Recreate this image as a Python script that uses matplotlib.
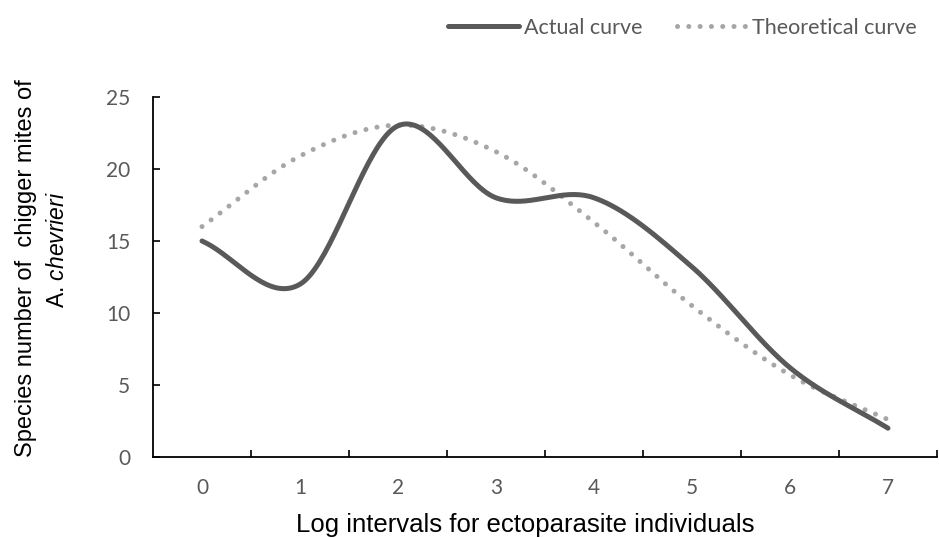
import numpy as np
import matplotlib
matplotlib.use("Agg")
import matplotlib.pyplot as plt

# categories on the x axis and the two series
categories = ["0", "1", "2", "3", "4", "5", "6", "7"]
actual = [15, 12, 23, 18, 18, 13.2, 6.2, 2]
theoretical = [16, 20.9, 23.05, 21.2, 16.3, 10.5, 5.7, 2.6]
y_ticks = [0, 5, 10, 15, 20, 25]


def smooth(ys, n=40):
    # Excel-like smoothed line (Catmull-Rom through the points)
    ys = np.asarray(ys, dtype=float)
    xs = np.arange(len(ys), dtype=float)
    px, py = [], []
    for i in range(len(ys) - 1):
        y0 = ys[i - 1] if i > 0 else ys[i]
        y3 = ys[i + 2] if i + 2 < len(ys) else ys[i + 1]
        x0 = xs[i - 1] if i > 0 else xs[i]
        x3 = xs[i + 2] if i + 2 < len(ys) else xs[i + 1]
        m1 = (ys[i + 1] - y0) / (xs[i + 1] - x0)
        m2 = (y3 - ys[i]) / (x3 - xs[i])
        t = np.linspace(0, 1, n, endpoint=(i == len(ys) - 2))
        h00 = 2 * t**3 - 3 * t**2 + 1
        h10 = t**3 - 2 * t**2 + t
        h01 = -2 * t**3 + 3 * t**2
        h11 = t**3 - t**2
        px.extend(xs[i] + t)
        py.extend(h00 * ys[i] + h10 * m1 + h01 * ys[i + 1] + h11 * m2)
    return np.array(px), np.array(py)


plt.rcParams['mathtext.fontset'] = 'custom'
plt.rcParams['mathtext.rm'] = 'Liberation Sans'
plt.rcParams['mathtext.it'] = 'Liberation Sans:italic'

fig = plt.figure(figsize=(9.39, 5.38), dpi=100)
ax = fig.add_axes([153 / 939, 1 - 457 / 538, 784 / 939, 360 / 538])

ax_x, ax_y = smooth(actual)
th_x, th_y = smooth(theoretical)
ax.plot(ax_x, ax_y, color="#595959", lw=3.6, solid_capstyle="round",
        label="Actual curve", zorder=3)
ax.plot(th_x, th_y, color="#a6a6a6", lw=3.6, linestyle=(0, (0.01, 2.25)),
        dash_capstyle="round", label="Theoretical curve", zorder=2)

ax.set_xlim(-0.5, len(categories) - 0.5)
ax.set_ylim(0, 25)
ax.set_yticks(y_ticks)
ax.set_xticks(range(len(categories)))
ax.set_xticklabels(categories)
ax.set_xticks(np.arange(0.5, len(categories), 1), minor=True)
ax.tick_params(axis="x", which="major", length=0, pad=15)
ax.tick_params(axis="x", which="minor", direction="in", length=5, width=1.2, color="black")
ax.tick_params(axis="y", direction="in", length=5, width=1.2, color="black", pad=16.5)
for lab in ax.get_xticklabels() + ax.get_yticklabels():
    lab.set_family("Lato")
    lab.set_fontsize(15)
    lab.set_color("#595959")

for s in ["top", "right"]:
    ax.spines[s].set_visible(False)
for s in ["left", "bottom"]:
    ax.spines[s].set_linewidth(1.3)

ax.set_xlabel("Log intervals for ectoparasite individuals", family="Liberation Sans",
              fontsize=18.5, labelpad=10)
ax.xaxis.set_label_coords((525 - 153) / 784, -(525 - 457) / 360)
ax.xaxis.label.set_va("center")
fig.text(26 / 939, 1 - 268 / 538, "Species number of  chigger mites of", rotation=90,
         ha="center", va="center", family="Liberation Sans", fontsize=17)
fig.text(58 / 939, 1 - 250 / 538, r"A. $\it{chevrieri}$", rotation=90,
         ha="center", va="center", family="Liberation Sans", fontsize=16.5)

leg = ax.legend(loc="center right", bbox_to_anchor=(783 / 784, 1 + 69 / 360), ncol=2,
                frameon=False, handlelength=3.3, handletextpad=0.2, columnspacing=1.6,
                prop={"family": "Lato", "size": 15.5})
for t in leg.get_texts():
    t.set_color("#595959")

fig.savefig("out.png", dpi=100)
